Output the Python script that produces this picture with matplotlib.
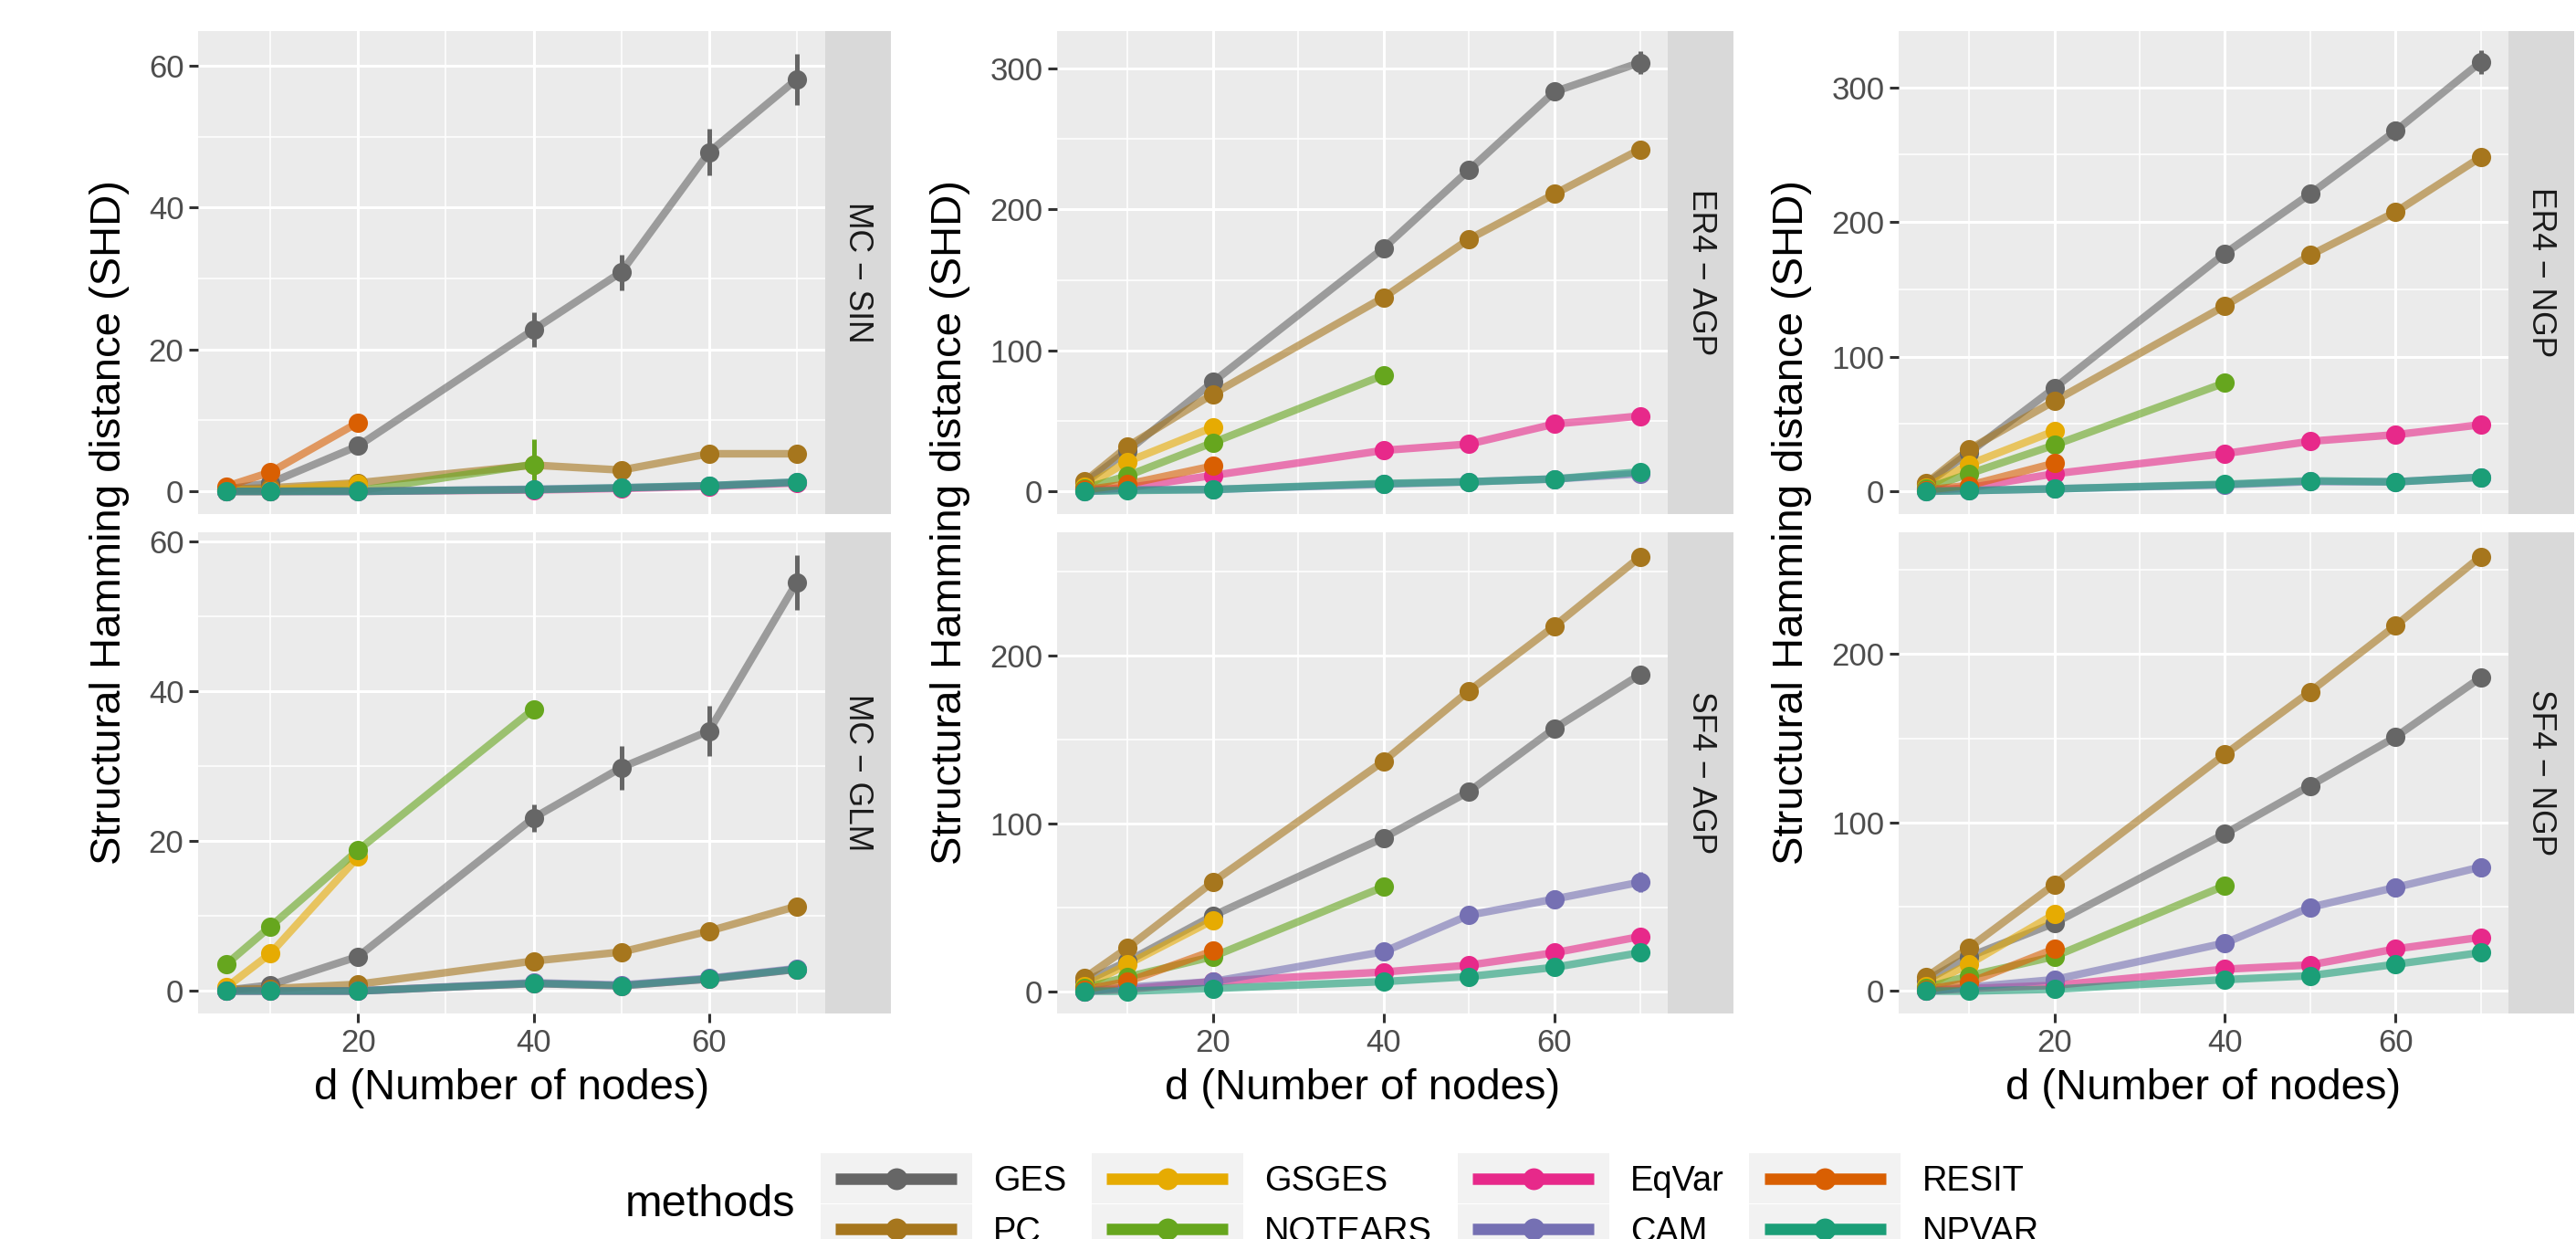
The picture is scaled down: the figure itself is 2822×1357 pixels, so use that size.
import matplotlib
matplotlib.use("Agg")
import matplotlib.pyplot as plt
from matplotlib.lines import Line2D
from matplotlib.patches import Rectangle
import numpy as np

plt.rcParams['font.family'] = ['Liberation Sans', 'DejaVu Sans']

W, H, DPI = 2822, 1357, 200

# ---------------- data ----------------
nodes = [5, 10, 20, 40, 50, 60, 70]
methods = ["GES", "PC", "GSGES", "NOTEARS", "EqVar", "CAM", "RESIT", "NPVAR"]
colors = {"GES": "#666666", "PC": "#A6761D", "GSGES": "#E6AB02", "NOTEARS": "#66A61E",
          "EqVar": "#E7298A", "CAM": "#7570B3", "RESIT": "#D95F02", "NPVAR": "#1B9E77"}

mc_sin = {
    "GES": [0.3, 1.2, 6.4, 22.8, 30.9, 47.8, 58.1],
    "PC": [0.3, 0.5, 1.2, 3.7, 3.0, 5.3, 5.3],
    "GSGES": [0.2, 0.2, 1.1],
    "NOTEARS": [0.0, 0.0, 0.1, 3.8],
    "EqVar": [0.0, 0.0, 0.0, 0.2, 0.4, 0.7, 1.2],
    "CAM": [0.0, 0.0, 0.0, 0.3, 0.5, 0.8, 1.3],
    "RESIT": [0.7, 2.7, 9.7],
    "NPVAR": [0.0, 0.0, 0.0, 0.25, 0.5, 0.8, 1.3],
}
mc_sin_err = {
    "GES": [0.3, 0.6, 0.8, 2.4, 2.5, 3.3, 3.6],
    "PC": [0.1, 0.2, 0.3, 0.6, 0.3, 0.4, 0.4],
    "NOTEARS": [0.0, 0.0, 0.2, 3.6],
}

mc_glm = {
    "GES": [0.1, 0.8, 4.6, 23.1, 29.8, 34.7, 54.5],
    "PC": [0.2, 0.3, 0.9, 4.0, 5.2, 8.0, 11.3],
    "GSGES": [0.5, 5.0, 17.9],
    "NOTEARS": [3.6, 8.6, 18.8, 37.6],
    "EqVar": [0.0, 0.0, 0.0, 1.0, 0.7, 1.6, 2.9],
    "CAM": [0.0, 0.0, 0.0, 1.1, 0.8, 1.7, 3.0],
    "NPVAR": [0.0, 0.0, 0.0, 1.0, 0.7, 1.6, 2.9],
}
mc_glm_err = {
    "GES": [0.1, 0.4, 0.6, 1.8, 2.9, 3.4, 3.7],
    "PC": [0.1, 0.1, 0.3, 0.5, 0.9, 0.9, 0.9],
    "GSGES": [0.3, 0.5, 0.8],
}

er4_agp = {
    "GES": [6.0, 28.6, 77.5, 172.6, 228.0, 283.6, 304.2],
    "PC": [7.0, 31.8, 69.0, 137.6, 179.0, 211.0, 242.6],
    "GSGES": [3.0, 21.0, 45.4],
    "NOTEARS": [2.0, 11.0, 34.5, 82.4],
    "EqVar": [0.5, 2.5, 11.2, 29.0, 33.5, 47.7, 53.4],
    "CAM": [0.0, 1.0, 1.2, 5.0, 6.7, 8.7, 12.4],
    "RESIT": [1.0, 5.0, 17.9],
    "NPVAR": [0.0, 0.5, 1.2, 5.5, 6.7, 8.7, 13.7],
}
er4_agp_err = {
    "GES": [1.0, 2.0, 3.0, 5.0, 6.0, 6.0, 8.0],
    "PC": [1.0, 1.5, 2.0, 3.0, 3.0, 3.0, 4.0],
    "EqVar": [0.3, 0.5, 1.0, 2.0, 2.0, 3.0, 3.0],
}

sf4_agp = {
    "GES": [5.7, 17.8, 45.0, 91.4, 119.0, 156.6, 188.6],
    "PC": [8.0, 25.8, 65.1, 137.1, 179.0, 217.6, 258.7],
    "GSGES": [3.0, 16.0, 42.3],
    "NOTEARS": [2.0, 8.5, 20.6, 62.2],
    "EqVar": [0.0, 1.1, 5.7, 11.4, 15.5, 22.9, 32.5],
    "CAM": [0.0, 2.3, 5.7, 23.5, 45.3, 54.9, 64.9],
    "RESIT": [1.0, 5.7, 24.0],
    "NPVAR": [0.0, 0.0, 1.6, 5.7, 8.7, 14.2, 22.9],
}
sf4_agp_err = {
    "GES": [1.0, 1.5, 2.0, 3.0, 4.0, 4.0, 4.0],
    "PC": [0.5, 1.0, 1.0, 1.5, 1.5, 1.5, 1.5],
    "CAM": [0.2, 0.5, 1.0, 3.0, 5.0, 5.0, 6.0],
    "NOTEARS": [0.5, 1.0, 1.0, 3.0],
}

er4_ngp = {
    "GES": [5.2, 28.6, 76.6, 176.6, 220.8, 267.5, 318.7],
    "PC": [6.0, 31.2, 67.0, 137.7, 175.3, 207.3, 248.0],
    "GSGES": [3.0, 20.0, 44.7],
    "NOTEARS": [2.0, 13.0, 34.3, 80.5],
    "EqVar": [0.5, 2.6, 13.0, 28.0, 37.1, 42.0, 49.4],
    "CAM": [0.0, 0.5, 1.8, 4.8, 7.2, 7.0, 10.4],
    "RESIT": [1.0, 4.4, 20.8],
    "NPVAR": [0.0, 0.5, 1.8, 5.2, 7.8, 7.0, 10.4],
}
er4_ngp_err = {
    "GES": [1.0, 2.0, 3.0, 5.0, 6.0, 7.0, 9.0],
    "PC": [1.0, 1.5, 2.0, 3.0, 3.0, 4.0, 4.0],
}

sf4_ngp = {
    "GES": [6.4, 20.5, 40.3, 93.4, 121.9, 150.8, 186.1],
    "PC": [8.4, 25.7, 63.3, 140.5, 177.7, 216.9, 257.9],
    "GSGES": [3.0, 16.0, 45.6],
    "NOTEARS": [2.0, 9.1, 20.5, 62.6],
    "EqVar": [0.0, 1.5, 3.4, 13.0, 15.5, 25.0, 31.9],
    "CAM": [0.0, 2.3, 6.8, 28.5, 49.7, 61.5, 73.6],
    "RESIT": [1.0, 5.0, 25.0],
    "NPVAR": [0.0, 0.0, 1.1, 6.8, 9.1, 15.9, 22.8],
}
sf4_ngp_err = {
    "GES": [1.0, 1.5, 2.0, 4.0, 4.0, 4.0, 4.5],
    "PC": [0.5, 1.0, 1.0, 1.5, 1.5, 1.5, 1.5],
    "CAM": [0.2, 0.5, 1.0, 3.5, 5.0, 5.5, 5.5],
    "GSGES": [0.5, 2.0, 2.0],
}

# panel layout: (data, err, strip label, ylim, yticks, yminor)
panels = [
    [(mc_sin, mc_sin_err, "MC \u2212 SIN", (-3.2, 64.9), [0, 20, 40, 60], [10, 30, 50]),
     (mc_glm, mc_glm_err, "MC \u2212 GLM", (-3.0, 61.2), [0, 20, 40, 60], [10, 30, 50])],
    [(er4_agp, er4_agp_err, "ER4 \u2212 AGP", (-16.2, 326.6), [0, 100, 200, 300], [50, 150, 250]),
     (sf4_agp, sf4_agp_err, "SF4 \u2212 AGP", (-13.3, 273.4), [0, 100, 200], [50, 150, 250])],
    [(er4_ngp, er4_ngp_err, "ER4 \u2212 NGP", (-16.9, 341.7), [0, 100, 200, 300], [50, 150, 250]),
     (sf4_ngp, sf4_ngp_err, "SF4 \u2212 NGP", (-13.3, 272.3), [0, 100, 200], [50, 150, 250])],
]

# ---------------- layout (pixels) ----------------
col_x = [(217, 904), (1158, 1827), (2080, 2748)]
strip_w = 72
row_y = [(34, 563), (583, 1110)]
ylab_x = [120, 1041, 1963]


def fx(px):
    return px / W


def fy(py):
    return 1 - py / H


fig = plt.figure(figsize=(W / DPI, H / DPI), dpi=DPI)
fig.patch.set_facecolor("white")


def draw_panel(ax, data, err, ylim, yticks, yminor, show_x):
    ax.set_facecolor("#EBEBEB")
    ax.set_xlim(1.75, 73.25)
    ax.set_ylim(*ylim)
    ax.set_xticks([20, 40, 60])
    ax.set_xticks([10, 30, 50, 70], minor=True)
    ax.set_yticks(yticks)
    ax.set_yticks(yminor, minor=True)
    ax.grid(which='major', color='white', lw=1.1)
    ax.grid(which='minor', color='white', lw=0.55)
    ax.set_axisbelow(True)
    for s in ax.spines.values():
        s.set_visible(False)
    ax.tick_params(which='minor', length=0)
    ax.tick_params(which='major', length=3.6, width=1.1, color='#333333',
                   labelcolor='#4D4D4D', labelsize=12.5, pad=2)
    if not show_x:
        ax.tick_params(axis='x', which='major', length=0, labelbottom=False)
    for m in methods:
        if m in data:
            v = data[m]
            ax.plot(nodes[:len(v)], v, color=colors[m], lw=3, alpha=0.6,
                    solid_capstyle='butt', solid_joinstyle='round', zorder=2)
    for m in methods:
        if m in data and m in err:
            v = np.array(data[m]); e = np.array(err[m])
            x = np.array(nodes[:len(v)])
            ax.vlines(x, v - e, v + e, color=colors[m], lw=1.8, zorder=3)
    for m in methods:
        if m in data:
            v = data[m]
            ax.plot(nodes[:len(v)], v, 'o', color=colors[m], ms=7.6, mew=0, zorder=4)


for ci, col in enumerate(panels):
    x0, x1 = col_x[ci]
    for ri, (data, err, lab, ylim, yt, ym) in enumerate(col):
        y0, y1 = row_y[ri]
        ax = fig.add_axes([fx(x0), fy(y1), fx(x1 - x0), (y1 - y0) / H])
        draw_panel(ax, data, err, ylim, yt, ym, show_x=(ri == 1))
        sax = fig.add_axes([fx(x1), fy(y1), fx(strip_w), (y1 - y0) / H])
        sax.set_facecolor("#D9D9D9")
        sax.set_xticks([]); sax.set_yticks([])
        for s in sax.spines.values():
            s.set_visible(False)
        sax.text(0.5, 0.5, lab, rotation=270, ha='center', va='center',
                 fontsize=12.8, color='#1A1A1A', transform=sax.transAxes)
    fig.text(fx(ylab_x[ci]), fy((row_y[0][0] + row_y[1][1]) / 2),
             "Structural Hamming distance (SHD)", rotation=90,
             ha='center', va='center', fontsize=17)
    fig.text(fx((x0 + x1) / 2), fy(1192), "d (Number of nodes)",
             ha='center', va='center', fontsize=17)

# ---------------- legend ----------------
handles = [Line2D([0], [0], color=colors[m], lw=4.5, marker='o', ms=7.6,
                  solid_capstyle='butt') for m in methods]
leg = fig.legend(handles, methods, loc='upper left',
                 bbox_to_anchor=(fx(915), fy(1276)), ncol=4, frameon=False,
                 fontsize=13.7, handlelength=3.5, handletextpad=1.05,
                 columnspacing=1.15, labelspacing=0.52, borderpad=0,
                 borderaxespad=0)
fig.text(fx(871), fy(1320), "methods", ha='right', va='center', fontsize=17.5)

fig.canvas.draw()
renderer = fig.canvas.get_renderer()
for h in leg.legend_handles:
    bb = h.get_window_extent(renderer)
    cx = (bb.x0 + bb.x1) / 2
    cy = (bb.y0 + bb.y1) / 2
    rect = Rectangle((cx - 83, cy - 27.5), 166, 55, transform=None,
                     facecolor="#F2F2F2", edgecolor='none', zorder=1)
    fig.patches.append(rect)
    rect.set_figure(fig)

fig.savefig("out.png", dpi=DPI)
